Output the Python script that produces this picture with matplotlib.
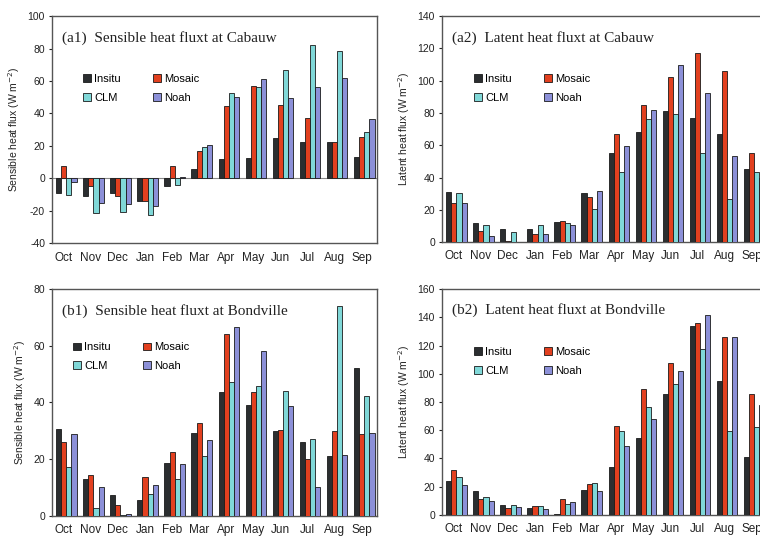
import matplotlib
matplotlib.use('Agg')
import matplotlib.pyplot as plt
import numpy as np

plt.rcParams['font.family'] = ['Liberation Sans', 'DejaVu Sans']
plt.rcParams['axes.unicode_minus'] = False

months = ['Oct', 'Nov', 'Dec', 'Jan', 'Feb', 'Mar', 'Apr', 'May', 'Jun', 'Jul', 'Aug', 'Sep']
models = ['Insitu', 'Mosaic', 'CLM', 'Noah']
colors = ['#2b2e30', '#e2401f', '#80d8d8', '#8c90d8']

# (a1) sensible heat, Cabauw
a1_insitu = [-9, -11, -9, -14, -4.5, 5.8, 12, 12.3, 25, 22.2, 22.2, 13.4]
a1_mosaic = [7.4, -5, -11, -14, 7.4, 16.7, 44.4, 57.2, 45.3, 37.2, 22.6, 25.3]
a1_clm = [-10, -21.6, -21, -22.6, -4, 19, 52.5, 56.2, 67, 82.5, 78.4, 28.4]
a1_noah = [-2, -15, -16, -17, 0.8, 20.8, 50.4, 61, 49.6, 56.4, 61.7, 36.6]

# (a2) latent heat, Cabauw
a2_insitu = [31.3, 11.7, 8, 8.4, 12.6, 30.5, 55.2, 68, 81, 77, 66.7, 45.2]
a2_mosaic = [24.3, 6.8, 0.6, 5, 13.2, 27.8, 66.7, 85, 102.5, 117, 106, 55]
a2_clm = [30.3, 10.5, 6, 10.5, 11.7, 20.8, 43.4, 76, 79.3, 55, 26.4, 43.2]
a2_noah = [24.3, 3.5, 0, 5, 10.7, 31.5, 59.7, 82, 110, 92.4, 53.5, 40]

# (b1) sensible heat, Bondville
b1_insitu = [30.5, 13.2, 7.5, 5.5, 18.5, 29.3, 43.6, 39.2, 30, 25.9, 21, 52]
b1_mosaic = [26.1, 14.4, 4, 13.8, 22.4, 32.8, 64.1, 43.6, 30.2, 20.2, 30, 29]
b1_clm = [17.3, 2.9, 0.2, 7.6, 13.2, 21.3, 47.3, 45.8, 44, 27, 74.1, 42.2]
b1_noah = [29, 10.2, 0.6, 11, 18.2, 26.7, 66.5, 58.1, 38.8, 10.1, 21.4, 29.4]

# (b2) latent heat, Bondville
b2_insitu = [24.3, 17.2, 6.8, 5, 1, 17.5, 34.2, 54.7, 85.7, 134, 94.9, 40.8]
b2_mosaic = [31.6, 11, 5, 6.1, 11.6, 22, 62.8, 89, 107.8, 136, 125.8, 85.4]
b2_clm = [27.1, 12.5, 6.8, 6.1, 7.5, 22.4, 59.7, 76.7, 92.7, 117.8, 59.2, 62.5]
b2_noah = [21, 9.7, 5.4, 4.5, 9, 17, 49.1, 68.2, 102.2, 141.6, 125.8, 78]

panels = [
    ('(a1)  Sensible heat fluxt at Cabauw', 'Sensible heat flux (W m$^{-2}$)',
     [a1_insitu, a1_mosaic, a1_clm, a1_noah], (-40, 100),
     [0.0684, 0.548, 0.4276, 0.422], (0.095, 0.745)),
    ('(a2)  Latent heat fluxt at Cabauw', 'Latent heat flux (W m$^{-2}$)',
     [a2_insitu, a2_mosaic, a2_clm, a2_noah], (0, 140),
     [0.5816, 0.550, 0.4276, 0.420], (0.098, 0.745)),
    ('(b1)  Sensible heat fluxt at Bondville', 'Sensible heat flux (W m$^{-2}$)',
     [b1_insitu, b1_mosaic, b1_clm, b1_noah], (0, 80),
     [0.0684, 0.0409, 0.4276, 0.422], (0.065, 0.765)),
    ('(b2)  Latent heat fluxt at Bondville', 'Latent heat flux (W m$^{-2}$)',
     [b2_insitu, b2_mosaic, b2_clm, b2_noah], (0, 160),
     [0.5816, 0.0428, 0.4276, 0.420], (0.098, 0.745)),
]

fig = plt.figure(figsize=(7.6, 5.38), dpi=100)
x = np.arange(len(months))
w = 0.19

for title, ylabel, series, ylim, pos, legpos in panels:
    ax = fig.add_axes(pos)
    bars = []
    for k, vals in enumerate(series):
        b = ax.bar(x + (k - 1.5) * w, vals, w, color=colors[k], edgecolor='#1a1a1a',
                   linewidth=0.6, label=models[k], zorder=3)
        bars.append(b)
    ax.set_xlim(-0.53, 11.47)
    ax.set_ylim(*ylim)
    ax.set_yticks(np.arange(ylim[0], ylim[1] + 1, 20))
    ax.set_xticks(x - 0.1)
    ax.set_xticklabels(months)
    if ylim[0] < 0:
        ax.axhline(0, color='#888888', linewidth=0.8, zorder=2)
    ax.tick_params(axis='x', length=0, pad=6, labelsize=8.5, colors='#222222')
    ax.tick_params(axis='y', length=2, pad=3, labelsize=7.5, colors='#222222')
    for s in ax.spines.values():
        s.set_color('#555555')
        s.set_linewidth(1.0)
    ax.set_ylabel(ylabel, fontsize=7.5, color='#222222', labelpad=4)
    ax.text(0.03, 0.905, title, transform=ax.transAxes, fontsize=11,
            family='Liberation Serif', va='center', ha='left', color='#222222')
    # row-wise order: Insitu, Mosaic / CLM, Noah
    order = [0, 2, 1, 3]
    ax.legend([bars[i] for i in order], [models[i] for i in order],
              loc='upper left', bbox_to_anchor=legpos, ncol=2, frameon=False,
              fontsize=8, handlelength=0.7, handleheight=0.7, handletextpad=0.3,
              columnspacing=2.9, labelspacing=0.8, borderaxespad=0, borderpad=0)

fig.savefig('out.png', dpi=100, facecolor='white')
